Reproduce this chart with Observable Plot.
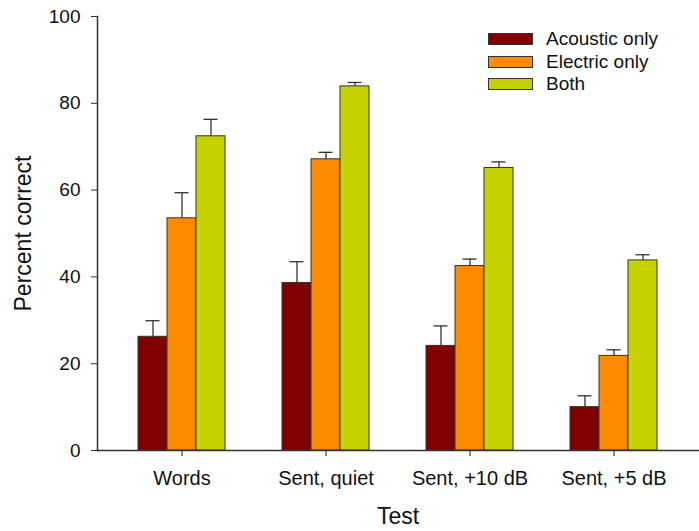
<!DOCTYPE html>
<html>
<head>
<meta charset="utf-8">
<script src="https://cdn.jsdelivr.net/npm/d3@7"></script>
<script src="https://cdn.jsdelivr.net/npm/@observablehq/plot@0.6"></script>
<style>
  html, body { margin: 0; padding: 0; background: #fff; }
  #wrap { position: relative; width: 699px; height: 531px; font-family: "Liberation Sans", Arial, sans-serif; }
  #wrap svg { font-family: "Liberation Sans", Arial, sans-serif; }
  g[aria-label="y-axis label"] text, g[aria-label="fx-axis label"] text { font-size: 23px; }
  g[aria-label="fx-axis tick label"] text { font-size: 20px; }
  #legend { position: absolute; left: 488px; top: 28px; font-size: 19px; color: #111; }
  .row { display: flex; align-items: center; height: 22.5px; }
  .sw { width: 43px; height: 10px; border: 1px solid #333; margin-right: 13px; }
</style>
</head>
<body>
<div id="wrap"></div>
<script>
const tests = ["Words", "Sent, quiet", "Sent, +10 dB", "Sent, +5 dB"];
const series = ["Acoustic only", "Electric only", "Both"];
const colors = ["#820000", "#ff8a00", "#c5d200"];
const acoustic = [26.2, 38.6, 24.1, 10.0];
const acousticErr = [3.7, 4.9, 4.6, 2.6];
const electric = [53.5, 67.1, 42.5, 21.8];
const electricErr = [5.9, 1.6, 1.6, 1.4];
const both = [72.4, 83.9, 65.1, 43.8];
const bothErr = [3.9, 0.9, 1.4, 1.3];
const yTicks = [0, 20, 40, 60, 80, 100];

const vals = [acoustic, electric, both];
const errs = [acousticErr, electricErr, bothErr];
const data = [];
tests.forEach((t, i) => series.forEach((s, j) => {
  data.push({test: t, series: s, value: vals[j][i], hi: vals[j][i] + errs[j][i]});
}));

const gap = 41; // distance from the y axis to the first group
const chart = Plot.plot({
  width: 699,
  height: 531,
  marginLeft: 97,
  marginRight: 1,
  marginTop: 16,
  marginBottom: 81,
  style: {fontSize: "19px", fontFamily: "Liberation Sans, Arial, sans-serif", color: "#111", background: "#fff"},
  fx: {domain: tests, paddingInner: 0.3958, paddingOuter: 0.2847, label: "Test", labelAnchor: "center", labelOffset: 73, tickSize: 6, tickPadding: 14},
  x: {domain: series, padding: 0, axis: null},
  y: {domain: [0, 100]},
  color: {domain: series, range: colors},
  marks: [
    Plot.axisY({ticks: yTicks, tickSize: 6, tickPadding: 11, dx: -gap, label: "Percent correct", labelAnchor: "center", labelOffset: 124, labelArrow: "none", stroke: "#333"}),
    Plot.ruleX(data, {fx: "test", x: "series", y1: "value", y2: "hi", stroke: "#333", strokeWidth: 1.3}),
    Plot.tickY(data, {fx: "test", x: "series", y: "hi", stroke: "#333", strokeWidth: 1.3, insetLeft: 7.5, insetRight: 7.5}),
    Plot.barY(data, {fx: "test", x: "series", y: "value", fill: "series", stroke: "#333", strokeWidth: 1}),
    Plot.frame({anchor: "bottom", facet: "super", stroke: "#333", strokeWidth: 1.5, insetLeft: -gap, insetRight: -gap}),
    Plot.frame({anchor: "left", facet: "super", stroke: "#333", strokeWidth: 1.5, dx: -gap})
  ]
});
const wrap = document.getElementById("wrap");
wrap.appendChild(chart);

const legend = document.createElement("div");
legend.id = "legend";
series.forEach((s, j) => {
  const row = document.createElement("div");
  row.className = "row";
  const sw = document.createElement("div");
  sw.className = "sw";
  sw.style.background = colors[j];
  const label = document.createElement("span");
  label.textContent = s;
  row.appendChild(sw);
  row.appendChild(label);
  legend.appendChild(row);
});
wrap.appendChild(legend);
</script>
</body>
</html>
